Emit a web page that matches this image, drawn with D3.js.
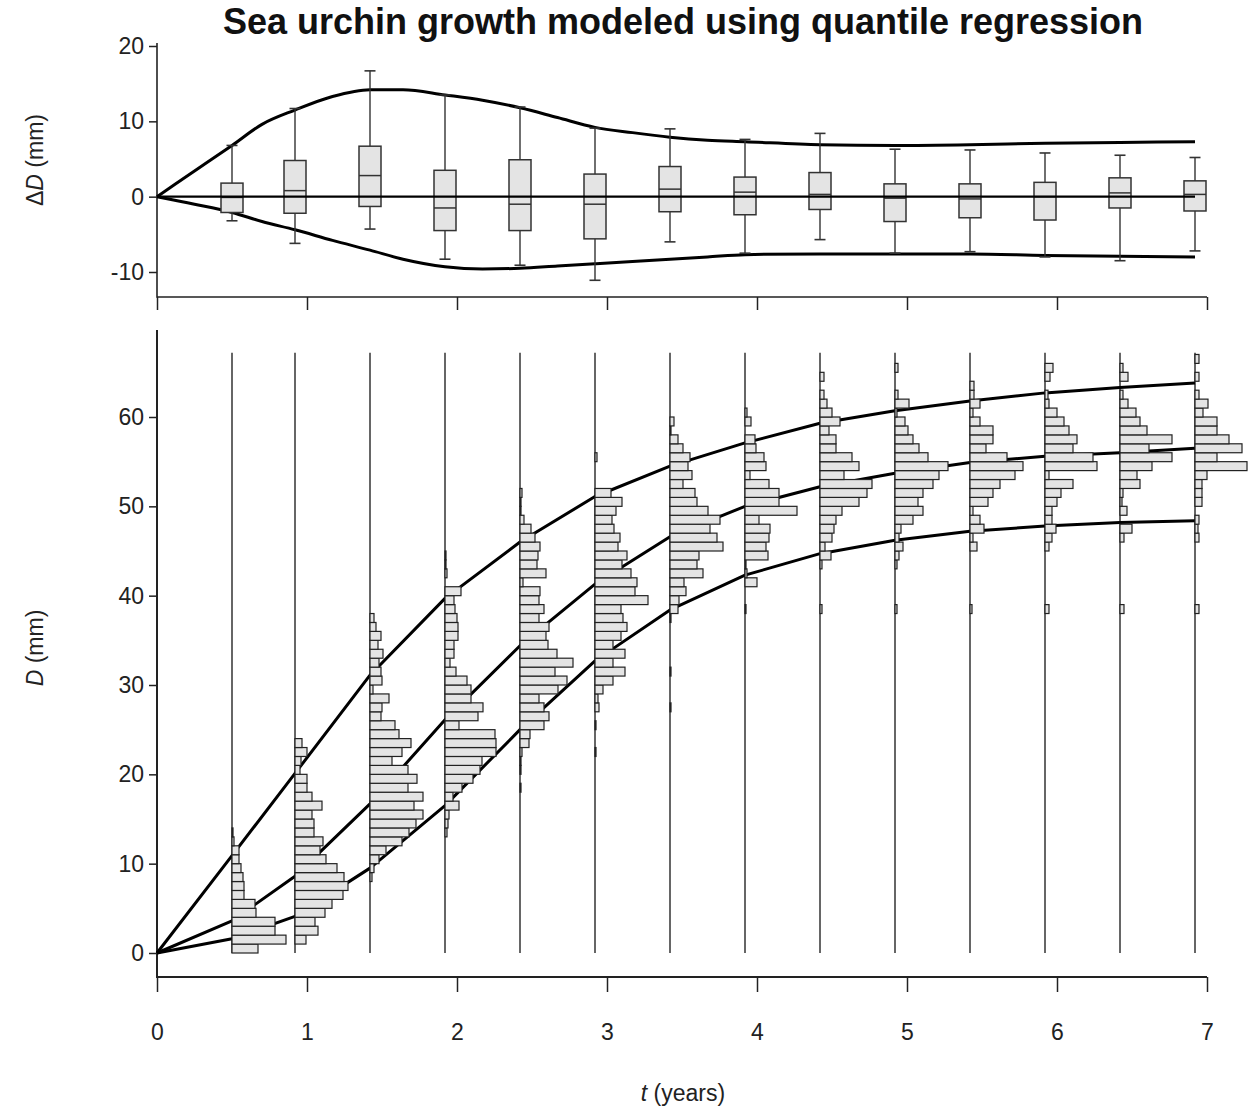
<!DOCTYPE html>
<html>
<head>
<meta charset="utf-8">
<script src="https://cdn.jsdelivr.net/npm/d3@7"></script>
<style>
  body { margin: 0; background: #fff; }
  svg { display: block; font-family: "Liberation Sans", Arial, Helvetica, sans-serif; }
  .tick text { fill: #222; }
</style>
</head>
<body>
<div id="chart"></div>
<script>
// sampling times (years) shared by the boxplots and the histograms
var times = [0.5, 0.92, 1.42, 1.92, 2.42, 2.92, 3.42, 3.92, 4.42, 4.92, 5.42, 5.92, 6.42, 6.92];

// top panel: boxplots of growth deviation (mm)
var whiskLow  = [-3.2, -6.2, -4.3, -8.3, -9.1, -11.1, -6.0, -7.5, -5.7, -7.5, -7.3, -8.0, -8.5, -7.2];
var boxQ1     = [-2.1, -2.2, -1.3, -4.5, -4.5, -5.6, -2.0, -2.4, -1.7, -3.3, -2.8, -3.1, -1.5, -1.9];
var boxMed    = [-0.1, 0.8, 2.8, -1.5, -1.0, -1.0, 1.0, 0.6, 0.3, -0.2, -0.3, 0.0, 0.5, 0.3];
var boxQ3     = [1.8, 4.8, 6.7, 3.5, 4.9, 3.0, 4.0, 2.6, 3.2, 1.7, 1.7, 1.9, 2.5, 2.1];
var whiskHigh = [6.8, 11.7, 16.7, 13.5, 11.9, 9.1, 9.0, 7.6, 8.4, 6.3, 6.2, 5.8, 5.5, 5.2];

// top panel: envelope curves
var devT     = [0, 0.25, 0.5, 0.7, 0.92, 1.17, 1.42, 1.64, 1.92, 2.17, 2.42, 2.67, 2.92, 3.17, 3.42, 3.67, 3.92, 4.42, 4.92, 5.42, 5.92, 6.42, 6.92];
var devUpper = [0, 3.4, 6.8, 9.6, 11.5, 13.3, 14.2, 14.2, 13.5, 12.8, 11.8, 10.5, 9.2, 8.5, 7.9, 7.5, 7.3, 6.9, 6.8, 6.9, 7.1, 7.2, 7.3];
var devLower = [0, -1.0, -2.1, -3.3, -4.4, -5.8, -7.1, -8.3, -9.3, -9.6, -9.5, -9.2, -8.9, -8.6, -8.3, -8.0, -7.7, -7.6, -7.6, -7.6, -7.8, -7.9, -8.0];

// bottom panel: quantile growth curves D(t), first point at t = 0
var curveT = [0].concat(times);
var qUpper = [0, 10.9, 20.1, 31.1, 39.7, 46.0, 51.1, 54.5, 57.1, 59.3, 60.7, 61.8, 62.7, 63.3, 63.8];
var qMid   = [0, 3.6, 8.6, 16.7, 26.1, 34.4, 41.3, 46.6, 50.0, 52.2, 53.7, 54.9, 55.6, 56.0, 56.5];
var qLower = [0, 1.6, 4.1, 9.5, 16.5, 25.0, 32.7, 38.4, 42.3, 44.7, 46.2, 47.2, 47.8, 48.2, 48.4];

// bottom panel: histograms of D, 1 mm bins, first bin start (mm) and relative frequencies
var histStart = [0, 1, 8, 13, 18, 22, 27, 38, 38, 38, 38, 38, 38, 38];
var histFreq = [
  [26, 54, 43, 43, 24, 23, 12, 12, 11, 9, 7, 7, 2, 1],
  [11, 23, 20, 30, 37, 48, 53, 49, 42, 31, 25, 28, 19, 19, 17, 27, 17, 12, 12, 5, 6, 12, 7],
  [2, 4, 9, 16, 32, 39, 46, 53, 44, 53, 38, 47, 38, 22, 32, 41, 29, 25, 11, 12, 19, 3, 12, 11, 9, 13, 8, 11, 6, 4],
  [2, 3, 4, 14, 8, 17, 28, 35, 37, 51, 51, 50, 14, 33, 38, 26, 26, 22, 11, 5, 9, 9, 13, 13, 12, 10, 9, 16, 0, 2, 1, 1],
  [1, 0, 1, 1, 2, 9, 10, 24, 29, 24, 19, 38, 47, 35, 53, 37, 28, 26, 29, 19, 24, 19, 20, 3, 26, 17, 18, 20, 15, 11, 4, 1, 1, 2],
  [1, 0, 0, 1, 0, 4, 3, 8, 18, 30, 18, 30, 18, 26, 32, 28, 26, 53, 40, 42, 36, 27, 32, 23, 25, 19, 17, 21, 27, 16, 0, 0, 0, 2],
  [1, 0, 0, 0, 1, 0, 0, 0, 0, 0, 1, 8, 9, 16, 14, 33, 27, 29, 53, 47, 40, 50, 38, 27, 25, 13, 22, 18, 20, 13, 8, 1, 4],
  [1, 0, 0, 12, 2, 1, 23, 21, 24, 25, 14, 52, 34, 34, 24, 5, 21, 19, 11, 10, 0, 6, 2],
  [2, 0, 0, 0, 0, 2, 11, 5, 12, 14, 16, 22, 39, 47, 52, 24, 39, 32, 16, 16, 9, 20, 12, 7, 4, 0, 4],
  [2, 0, 0, 0, 0, 2, 4, 8, 4, 6, 18, 28, 23, 28, 38, 44, 53, 33, 24, 18, 13, 10, 2, 14, 3, 0, 0, 3],
  [2, 0, 0, 0, 0, 0, 0, 7, 3, 14, 10, 3, 18, 23, 30, 45, 53, 37, 16, 23, 23, 10, 3, 10, 4, 4],
  [4, 0, 0, 0, 0, 0, 0, 4, 7, 11, 7, 7, 12, 16, 28, 4, 52, 48, 28, 32, 24, 19, 12, 4, 3, 0, 5, 8],
  [4, 0, 0, 0, 0, 0, 0, 0, 4, 12, 0, 7, 2, 3, 20, 17, 32, 52, 29, 52, 27, 20, 16, 8, 3, 0, 8, 3],
  [4, 0, 0, 0, 0, 0, 0, 0, 4, 3, 4, 0, 7, 7, 7, 12, 52, 22, 47, 34, 22, 22, 8, 13, 4, 0, 4, 0, 4]
];
var histTop = 67.2;   // histogram guide lines reach this D

var xTicks = [0, 1, 2, 3, 4, 5, 6, 7];
var topTicks = [-10, 0, 10, 20];
var botTicks = [0, 10, 20, 30, 40, 50, 60];

var width = 1255, height = 1110;
var ink = "#222";
var plain = function (d) { return String(d); };   // keeps the ASCII hyphen in "-10"

var svg = d3.select("#chart").append("svg")
    .attr("width", width)
    .attr("height", height);

var x = d3.scaleLinear().domain([0, 7]).range([157, 1207]);
var yTop = d3.scaleLinear().domain([-10, 20]).range([272, 46]);
var yBot = d3.scaleLinear().domain([0, 60]).range([953, 417]);
var wFreq = d3.scaleLinear().domain([0, 53]).range([0, 53]);

var topPanel = {top: 43, bottom: 297};
var botPanel = {top: 330, bottom: 977};

// title
svg.append("text")
    .attr("x", 683).attr("y", 34)
    .attr("text-anchor", "middle")
    .style("font-size", "36px").style("font-weight", "bold").style("fill", "#111")
    .text("Sea urchin growth modeled using quantile regression");

// ---------- top panel ----------
var gTop = svg.append("g");

// L frame
gTop.append("path")
    .attr("d", "M" + x(0) + "," + topPanel.top + "V" + topPanel.bottom + "H" + x(7))
    .attr("fill", "none").attr("stroke", ink).attr("stroke-width", 1.6);

var axTopY = gTop.append("g")
    .attr("transform", "translate(" + x(0) + ",0)")
    .call(d3.axisLeft(yTop).tickValues(topTicks).tickSize(8).tickPadding(5).tickFormat(plain));
var axTopX = gTop.append("g")
    .attr("transform", "translate(0," + topPanel.bottom + ")")
    .call(d3.axisBottom(x).tickValues(xTicks).tickSize(13).tickFormat(""));

var line = d3.line().curve(d3.curveMonotoneX);

gTop.append("path")
    .attr("d", line(devT.map(function (t, i) { return [x(t), yTop(devUpper[i])]; })))
    .attr("fill", "none").attr("stroke", "#000").attr("stroke-width", 3);
gTop.append("path")
    .attr("d", line(devT.map(function (t, i) { return [x(t), yTop(devLower[i])]; })))
    .attr("fill", "none").attr("stroke", "#000").attr("stroke-width", 3);

var boxW = 22, capW = 11;
var boxes = gTop.selectAll(".box")
    .data(times)
    .enter().append("g")
    .attr("class", "box");
boxes.append("line")
    .attr("x1", function (d) { return x(d); }).attr("x2", function (d) { return x(d); })
    .attr("y1", function (d, i) { return yTop(whiskLow[i]); })
    .attr("y2", function (d, i) { return yTop(whiskHigh[i]); })
    .attr("stroke", "#333").attr("stroke-width", 1.4);
[whiskLow, whiskHigh].forEach(function (arr) {
    boxes.append("line")
        .attr("x1", function (d) { return x(d) - capW / 2; })
        .attr("x2", function (d) { return x(d) + capW / 2; })
        .attr("y1", function (d, i) { return yTop(arr[i]); })
        .attr("y2", function (d, i) { return yTop(arr[i]); })
        .attr("stroke", "#333").attr("stroke-width", 1.6);
});
boxes.append("rect")
    .attr("x", function (d) { return x(d) - boxW / 2; })
    .attr("width", boxW)
    .attr("y", function (d, i) { return yTop(boxQ3[i]); })
    .attr("height", function (d, i) { return yTop(boxQ1[i]) - yTop(boxQ3[i]); })
    .attr("fill", "#e4e4e4").attr("stroke", "#333").attr("stroke-width", 1.5);
boxes.append("line")
    .attr("x1", function (d) { return x(d) - boxW / 2; })
    .attr("x2", function (d) { return x(d) + boxW / 2; })
    .attr("y1", function (d, i) { return yTop(boxMed[i]); })
    .attr("y2", function (d, i) { return yTop(boxMed[i]); })
    .attr("stroke", "#333").attr("stroke-width", 1.5);

// zero line on top of the boxes
gTop.append("line")
    .attr("x1", x(0)).attr("x2", x(times[times.length - 1]))
    .attr("y1", yTop(0)).attr("y2", yTop(0))
    .attr("stroke", "#000").attr("stroke-width", 2.4);

// ---------- bottom panel ----------
var gBot = svg.append("g");

gBot.append("path")
    .attr("d", "M" + x(0) + "," + botPanel.top + "V" + botPanel.bottom + "H" + x(7))
    .attr("fill", "none").attr("stroke", ink).attr("stroke-width", 2);

var axBotY = gBot.append("g")
    .attr("transform", "translate(" + x(0) + ",0)")
    .call(d3.axisLeft(yBot).tickValues(botTicks).tickSize(8).tickPadding(5).tickFormat(plain));
var axBotX = gBot.append("g")
    .attr("transform", "translate(0," + botPanel.bottom + ")")
    .call(d3.axisBottom(x).tickValues(xTicks).tickSize(15).tickPadding(32).tickFormat(plain));

// guide lines for each histogram
gBot.selectAll(".guide")
    .data(times)
    .enter().append("line")
    .attr("class", "guide")
    .attr("x1", function (d) { return x(d); }).attr("x2", function (d) { return x(d); })
    .attr("y1", yBot(0)).attr("y2", yBot(histTop))
    .attr("stroke", "#333").attr("stroke-width", 1.5);

// quantile curves
var lin = d3.line();
[qUpper, qMid, qLower].forEach(function (q) {
    gBot.append("path")
        .attr("d", lin(curveT.map(function (t, i) { return [x(t), yBot(q[i])]; })))
        .attr("fill", "none").attr("stroke", "#000").attr("stroke-width", 3)
        .attr("stroke-linejoin", "round");
});

// histogram bars, drawn over the curves
times.forEach(function (t, j) {
    var bins = histFreq[j].map(function (f, k) { return {lo: histStart[j] + k, f: f}; })
        .filter(function (b) { return b.f > 0; });
    gBot.append("g").selectAll("rect")
        .data(bins)
        .enter().append("rect")
        .attr("x", x(t))
        .attr("y", function (b) { return yBot(b.lo + 1); })
        .attr("width", function (b) { return wFreq(b.f); })
        .attr("height", function (b) { return yBot(b.lo) - yBot(b.lo + 1); })
        .attr("fill", "#e4e4e4").attr("stroke", "#222").attr("stroke-width", 1.2);
});

// axis styling
[axTopY, axTopX, axBotY, axBotX].forEach(function (ax) {
    ax.select(".domain").remove();
    ax.selectAll(".tick line").attr("stroke", ink).attr("stroke-width", 1.5);
    ax.selectAll(".tick text").style("font-size", "23px").style("font-family", "'Liberation Sans', Arial, sans-serif");
});

// axis titles
function axisTitle(g, parts) {
    parts.forEach(function (p) {
        g.append("tspan").style("font-style", p[1] ? "italic" : "normal").text(p[0]);
    });
}
var t1 = svg.append("text")
    .attr("transform", "translate(43,160) rotate(-90)")
    .attr("text-anchor", "middle").style("font-size", "23px").style("fill", ink);
axisTitle(t1, [["\u0394", false], ["D", true], [" (mm)", false]]);

var t2 = svg.append("text")
    .attr("transform", "translate(43,648) rotate(-90)")
    .attr("text-anchor", "middle").style("font-size", "23px").style("fill", ink);
axisTitle(t2, [["D", true], [" (mm)", false]]);

var t3 = svg.append("text")
    .attr("x", 683).attr("y", 1101)
    .attr("text-anchor", "middle").style("font-size", "23px").style("fill", ink);
axisTitle(t3, [["t", true], [" (years)", false]]);
</script>
</body>
</html>
